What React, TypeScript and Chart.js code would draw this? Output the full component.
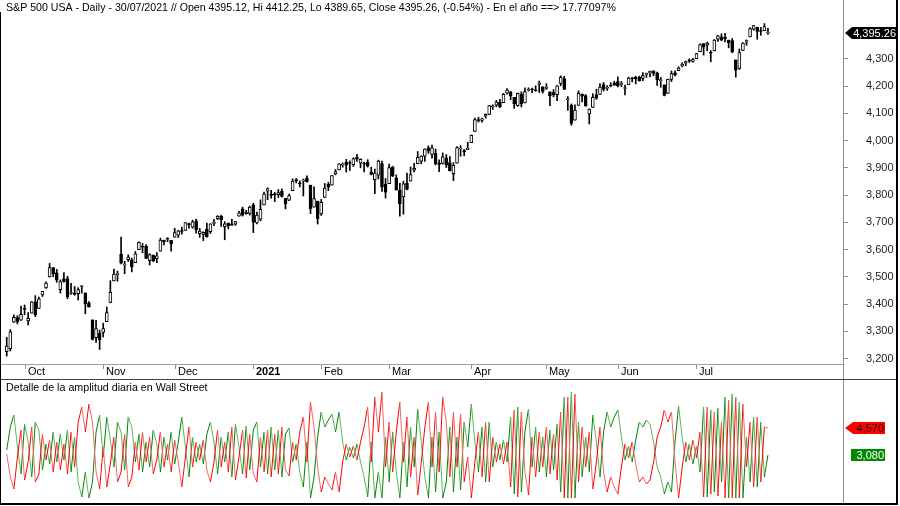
import React, { useEffect, useRef } from "react";
import { Chart, registerables } from "chart.js";

Chart.register(...registerables);

const dates = [
  "2020-09-24","2020-09-25","2020-09-28","2020-09-29","2020-09-30",
  "2020-10-01","2020-10-02","2020-10-05","2020-10-06","2020-10-07","2020-10-08","2020-10-09","2020-10-12","2020-10-13","2020-10-14","2020-10-15","2020-10-16","2020-10-19","2020-10-20","2020-10-21","2020-10-22","2020-10-23","2020-10-26","2020-10-27","2020-10-28","2020-10-29","2020-10-30",
  "2020-11-02","2020-11-03","2020-11-04","2020-11-05","2020-11-06","2020-11-09","2020-11-10","2020-11-11","2020-11-12","2020-11-13","2020-11-16","2020-11-17","2020-11-18","2020-11-19","2020-11-20","2020-11-23","2020-11-24","2020-11-25","2020-11-27","2020-11-30",
  "2020-12-01","2020-12-02","2020-12-03","2020-12-04","2020-12-07","2020-12-08","2020-12-09","2020-12-10","2020-12-11","2020-12-14","2020-12-15","2020-12-16","2020-12-17","2020-12-18","2020-12-21","2020-12-22","2020-12-23","2020-12-24","2020-12-28","2020-12-29","2020-12-30","2020-12-31",
  "2021-01-04","2021-01-05","2021-01-06","2021-01-07","2021-01-08","2021-01-11","2021-01-12","2021-01-13","2021-01-14","2021-01-15","2021-01-19","2021-01-20","2021-01-21","2021-01-22","2021-01-25","2021-01-26","2021-01-27","2021-01-28","2021-01-29",
  "2021-02-01","2021-02-02","2021-02-03","2021-02-04","2021-02-05","2021-02-08","2021-02-09","2021-02-10","2021-02-11","2021-02-12","2021-02-16","2021-02-17","2021-02-18","2021-02-19","2021-02-22","2021-02-23","2021-02-24","2021-02-25","2021-02-26",
  "2021-03-01","2021-03-02","2021-03-03","2021-03-04","2021-03-05","2021-03-08","2021-03-09","2021-03-10","2021-03-11","2021-03-12","2021-03-15","2021-03-16","2021-03-17","2021-03-18","2021-03-19","2021-03-22","2021-03-23","2021-03-24","2021-03-25","2021-03-26","2021-03-29","2021-03-30","2021-03-31",
  "2021-04-01","2021-04-05","2021-04-06","2021-04-07","2021-04-08","2021-04-09","2021-04-12","2021-04-13","2021-04-14","2021-04-15","2021-04-16","2021-04-19","2021-04-20","2021-04-21","2021-04-22","2021-04-23","2021-04-26","2021-04-27","2021-04-28","2021-04-29","2021-04-30",
  "2021-05-03","2021-05-04","2021-05-05","2021-05-06","2021-05-07","2021-05-10","2021-05-11","2021-05-12","2021-05-13","2021-05-14","2021-05-17","2021-05-18","2021-05-19","2021-05-20","2021-05-21","2021-05-24","2021-05-25","2021-05-26","2021-05-27","2021-05-28",
  "2021-06-01","2021-06-02","2021-06-03","2021-06-04","2021-06-07","2021-06-08","2021-06-09","2021-06-10","2021-06-11","2021-06-14","2021-06-15","2021-06-16","2021-06-17","2021-06-18","2021-06-21","2021-06-22","2021-06-23","2021-06-24","2021-06-25","2021-06-28","2021-06-29","2021-06-30",
  "2021-07-01","2021-07-02","2021-07-06","2021-07-07","2021-07-08","2021-07-09","2021-07-12","2021-07-13","2021-07-14","2021-07-15","2021-07-16","2021-07-19","2021-07-20","2021-07-21","2021-07-22","2021-07-23","2021-07-26","2021-07-27","2021-07-28","2021-07-29","2021-07-30",
];

const opens = [
  3226.14,3236.66,3333.90,3350.92,3341.21,
  3385.87,3338.94,3367.27,3408.74,3384.56,3434.28,3459.67,3500.02,3534.01,3515.47,3453.72,3493.50,3493.66,3439.38,3439.91,3438.50,3464.90,3441.42,3403.15,3342.48,3277.17,3293.59,
  3296.20,3336.25,3406.46,3485.74,3508.34,3583.04,3543.26,3563.22,3562.67,3552.57,3600.16,3610.31,3612.09,3559.41,3579.31,3566.82,3594.52,3635.50,3638.55,3634.18,
  3645.87,3653.78,3668.28,3670.94,3694.73,3683.05,3705.98,3659.13,3656.08,3675.27,3666.41,3696.25,3713.65,3722.39,3684.28,3698.08,3693.42,3694.03,3723.03,3750.01,3736.19,3733.27,
  3764.61,3698.02,3712.20,3764.71,3815.05,3803.14,3801.62,3802.23,3814.98,3788.73,3781.88,3816.22,3857.46,3844.24,3851.68,3862.96,3836.83,3755.75,3778.05,
  3731.17,3791.84,3840.27,3836.66,3878.30,3892.59,3910.49,3920.78,3916.40,3911.65,3939.61,3918.50,3915.86,3921.16,3885.55,3857.07,3873.71,3915.80,3839.66,
  3842.51,3903.64,3863.99,3818.53,3793.58,3844.39,3851.93,3891.99,3915.54,3924.52,3942.96,3973.59,3949.57,3953.50,3913.14,3916.48,3937.60,3919.93,3879.34,3917.12,3969.31,3963.34,3967.25,
  3992.78,4034.44,4075.57,4074.29,4089.95,4096.11,4124.71,4130.10,4141.58,4139.76,4174.14,4179.80,4159.18,4128.42,4170.46,4138.78,4185.03,4188.25,4185.14,4206.14,4198.10,
  4191.98,4179.04,4177.06,4169.14,4210.34,4228.29,4150.34,4130.55,4074.99,4129.58,4169.92,4165.94,4098.45,4121.97,4168.61,4170.16,4205.94,4191.59,4201.94,4210.77,
  4216.52,4206.82,4191.43,4206.05,4229.34,4233.81,4232.99,4228.56,4242.90,4248.31,4255.28,4248.87,4220.37,4204.78,4173.40,4224.61,4249.27,4256.97,4274.45,4284.90,4293.21,4290.65,
  4300.73,4326.60,4356.46,4351.01,4321.07,4329.38,4372.41,4381.07,4380.11,4369.02,4367.43,4296.40,4265.11,4331.13,4361.27,4381.20,4409.58,4416.38,4402.95,4403.59,4395.12,
];

const highs = [
  3278.70,3306.88,3360.74,3357.92,3393.56,
  3397.18,3369.10,3409.57,3431.56,3426.26,3447.28,3482.34,3549.85,3534.01,3527.94,3489.08,3515.76,3502.42,3476.93,3464.86,3460.53,3466.46,3441.42,3409.51,3342.48,3341.05,3304.93,
  3330.14,3389.49,3486.25,3529.05,3521.58,3645.99,3557.22,3581.16,3569.02,3593.66,3628.51,3623.11,3619.09,3585.22,3581.23,3589.81,3642.31,3635.50,3644.31,3634.18,
  3678.45,3670.96,3682.73,3699.20,3697.41,3708.45,3712.39,3678.49,3665.91,3697.61,3695.29,3711.27,3725.12,3726.70,3702.90,3698.26,3711.24,3703.82,3740.51,3756.12,3744.63,3760.20,
  3769.99,3737.83,3783.04,3811.55,3826.69,3817.86,3810.78,3820.96,3823.60,3788.73,3804.53,3859.75,3861.45,3852.31,3859.23,3870.90,3836.83,3830.50,3778.05,
  3784.32,3843.09,3847.51,3872.42,3894.56,3915.77,3918.35,3931.50,3925.99,3937.23,3950.43,3933.61,3921.98,3930.41,3902.92,3895.98,3928.65,3925.02,3861.08,
  3914.50,3906.41,3874.47,3843.67,3851.69,3881.06,3903.76,3917.35,3960.27,3944.99,3970.08,3981.04,3983.87,3969.62,3930.12,3955.31,3949.13,3942.08,3919.54,3978.19,3981.83,3968.01,3994.41,
  4020.63,4083.42,4086.23,4083.13,4098.19,4129.48,4131.76,4148.00,4151.69,4173.49,4191.31,4180.81,4159.18,4175.02,4179.57,4194.17,4194.19,4193.35,4201.53,4218.78,4198.10,
  4209.39,4179.04,4187.72,4202.70,4238.04,4236.39,4162.04,4134.73,4131.58,4183.13,4171.92,4169.15,4116.93,4172.80,4188.72,4209.52,4213.42,4202.61,4213.38,4218.36,
  4234.12,4217.37,4204.39,4233.45,4232.34,4236.74,4237.09,4249.74,4248.38,4255.59,4257.16,4251.89,4232.29,4204.78,4226.24,4255.84,4256.60,4271.28,4286.12,4292.14,4300.52,4302.43,
  4320.66,4355.43,4356.46,4361.88,4330.88,4371.60,4386.68,4392.37,4393.68,4369.02,4375.09,4296.40,4336.84,4359.70,4369.87,4415.18,4422.73,4416.38,4415.47,4429.97,4412.25,
];

const lows = [
  3209.45,3228.44,3332.91,3327.54,3340.47,
  3361.39,3323.69,3367.27,3354.54,3384.56,3428.15,3458.07,3499.61,3500.86,3480.55,3440.89,3480.45,3419.93,3435.65,3433.06,3415.34,3440.45,3364.86,3388.71,3268.89,3259.82,3233.94,
  3279.74,3336.25,3405.17,3485.74,3484.34,3547.48,3511.91,3557.00,3518.58,3552.57,3600.16,3588.68,3567.33,3543.84,3556.85,3552.77,3594.52,3617.76,3629.33,3594.39,
  3645.87,3644.84,3657.17,3670.94,3678.88,3678.83,3660.54,3645.18,3633.40,3645.84,3659.62,3688.57,3710.87,3685.84,3636.48,3676.16,3689.28,3689.32,3723.03,3723.31,3730.21,3726.88,
  3662.71,3695.07,3705.34,3764.71,3783.60,3789.02,3776.51,3791.50,3792.86,3749.62,3780.37,3816.22,3845.05,3830.41,3797.16,3847.78,3732.48,3755.75,3694.12,
  3725.62,3791.84,3816.68,3836.66,3874.93,3892.59,3902.64,3884.94,3890.39,3905.78,3923.85,3900.43,3885.03,3903.07,3874.71,3805.59,3859.60,3814.04,3789.54,
  3842.51,3868.57,3818.86,3723.34,3730.19,3819.25,3851.93,3885.73,3915.54,3915.21,3923.54,3953.44,3935.74,3910.86,3886.75,3914.16,3901.57,3889.07,3853.50,3917.12,3943.25,3944.35,3966.98,
  3992.78,4034.44,4068.14,4068.31,4082.54,4095.51,4114.82,4124.43,4120.87,4139.76,4170.75,4150.47,4118.38,4126.35,4123.69,4138.78,4182.36,4176.22,4181.78,4176.81,4174.85,
  4188.03,4128.59,4160.94,4147.33,4201.64,4188.13,4111.53,4056.88,4074.99,4129.58,4142.69,4125.99,4061.41,4121.97,4151.72,4170.16,4182.52,4184.11,4197.78,4203.57,
  4197.59,4198.27,4167.93,4206.05,4215.66,4208.41,4218.74,4220.34,4232.25,4234.07,4238.35,4202.45,4196.05,4164.40,4173.40,4217.27,4237.38,4256.97,4271.16,4274.67,4287.04,4287.96,
  4300.73,4326.60,4314.37,4329.79,4289.37,4329.38,4364.03,4366.92,4362.36,4340.70,4322.53,4233.13,4262.05,4331.13,4350.06,4381.20,4405.45,4372.51,4387.01,4403.59,4389.65,
];

const closes = [
  3246.59,3298.46,3351.60,3335.47,3363.00,
  3380.80,3348.42,3408.60,3360.97,3419.44,3446.83,3477.14,3534.22,3511.93,3488.67,3483.34,3483.81,3426.92,3443.12,3435.56,3453.49,3465.39,3400.97,3390.68,3271.03,3310.11,3269.96,
  3310.24,3369.16,3443.44,3510.45,3509.44,3550.50,3545.53,3572.66,3537.01,3585.15,3626.91,3609.53,3567.79,3581.87,3557.54,3577.59,3635.41,3629.65,3638.35,3621.63,
  3662.45,3669.01,3666.72,3699.12,3691.96,3702.25,3672.82,3668.10,3663.46,3647.49,3694.62,3701.17,3722.48,3709.41,3694.92,3687.26,3690.01,3703.06,3735.36,3727.04,3732.04,3756.07,
  3700.65,3726.86,3748.14,3803.79,3824.68,3799.61,3801.19,3809.84,3795.54,3768.25,3798.91,3851.85,3853.07,3841.47,3855.36,3849.62,3750.77,3787.38,3714.24,
  3773.86,3826.31,3830.17,3871.74,3886.83,3915.59,3911.23,3909.88,3916.38,3934.83,3932.59,3931.33,3913.97,3906.71,3876.50,3881.37,3925.43,3829.34,3811.15,
  3901.82,3870.29,3819.72,3768.47,3841.94,3821.35,3875.44,3898.81,3939.34,3943.34,3968.94,3962.71,3974.12,3915.46,3913.10,3940.59,3910.52,3889.14,3909.52,3974.54,3971.09,3958.55,3972.89,
  4019.87,4077.91,4073.94,4079.95,4097.17,4128.80,4127.99,4141.59,4124.66,4170.42,4185.47,4163.26,4134.94,4173.42,4134.98,4180.17,4187.62,4186.72,4183.18,4211.47,4181.17,
  4192.66,4164.66,4167.59,4201.62,4232.60,4188.43,4152.10,4063.04,4112.50,4173.85,4163.29,4127.83,4115.68,4159.12,4155.86,4197.05,4188.13,4195.99,4200.88,4204.11,
  4202.04,4208.12,4192.85,4229.89,4226.52,4227.26,4219.55,4239.18,4247.44,4255.15,4246.59,4223.70,4221.86,4166.45,4224.79,4246.44,4241.84,4266.49,4280.70,4290.61,4291.80,4297.50,
  4319.94,4352.34,4343.54,4358.13,4320.82,4369.55,4384.63,4369.21,4374.30,4360.03,4327.16,4258.49,4323.06,4358.69,4367.48,4411.79,4422.30,4401.46,4400.64,4419.15,4395.26,
];

// Lower panel: daily amplitude series (red / green)
const redAmp = [
  3140,1875,1215,2975,4460,1710,2700,4625,1600,2040,
  4240,2810,3910,2150,3800,2260,3690,2040,4350,2425,
  4900,5725,4350,5890,4900,2150,1215,3525,1325,2590,
  4075,1600,2150,4240,1325,1875,3800,2260,4350,2700,
  4075,2040,2810,4350,2425,3690,2150,3910,2700,1325,
  2975,4625,2425,3800,2810,3910,2260,1600,2700,4460,
  2425,3800,2150,4625,1710,2975,4460,1820,4240,2040,
  1600,4075,2150,4460,1875,4240,2040,4625,2260,1930,
  3800,2810,4350,5175,2700,6000,4625,2425,1050,1875,
  1490,1160,2150,1050,2700,3690,2975,3580,2810,3800,
  4625,5725,2700,6275,4350,6550,2425,4900,2150,4350,
  6000,2700,5175,1875,4075,885,2700,4625,6000,2425,
  5450,2150,6275,4900,1875,5450,2425,5340,1600,2975,
  720,2700,4350,1875,4900,1600,4075,2700,3690,2590,
  3800,1325,5560,775,5450,2150,885,4075,1875,4350,
  2425,4625,2040,4240,1710,5450,720,6275,720,6440,
  1600,4625,2425,4350,1215,2700,4625,2150,1050,1875,
  1325,940,2425,3690,2920,3800,2590,1600,1875,1490,
  1710,2700,4075,4625,5560,4900,5450,2700,720,2425,
  3800,2810,3910,2920,4350,775,5725,940,5450,830,
  4900,720,6110,720,6275,720,5890,2425,4900,1325,
  5175,1600,4625,4570,
];

const greenAmp = [
  3360,4625,5285,3525,2040,4790,3800,1875,4900,4460,
  2260,3690,2590,4350,2700,4240,2810,4460,2150,4075,
  1600,775,2150,720,1600,4350,5285,2975,5175,3910,
  2425,4900,4350,2260,5175,4625,2700,4240,2150,3800,
  2425,4460,3690,2150,4075,2810,4350,2590,3800,5175,
  3525,1875,4075,2700,3690,2590,4240,4900,3800,2040,
  4075,2700,4350,1875,4790,3525,2040,4680,2260,4460,
  4900,2425,4350,2040,4625,2260,4460,1875,4240,4570,
  2700,3690,2150,1325,3800,720,1875,4075,5450,4625,
  5010,5340,4350,5450,3800,2810,3525,2920,3690,2700,
  1875,775,3800,720,2150,720,4075,1600,4350,2150,
  720,3800,1325,4625,2425,5615,3800,1875,720,4075,
  1050,4350,720,1600,4625,1050,4075,1160,4900,3525,
  5890,3800,2150,4625,1600,4900,2425,3800,2810,3910,
  2700,5175,940,5725,1050,4350,5615,2425,4625,2150,
  4075,1875,4460,2260,4790,1050,6275,720,6550,720,
  4900,1875,4075,2150,5285,3800,1875,4350,5450,4625,
  5175,5560,4075,2810,3580,2700,3910,4900,4625,5010,
  4790,3800,2425,1875,940,1600,1050,3800,5780,4075,
  2700,3690,2590,3580,2150,5725,775,5560,1050,5670,
  1600,6275,720,6440,720,6000,720,4075,1600,5175,
  1325,4900,1875,3080,
];

const priceTickValues = [3200, 3300, 3400, 3500, 3600, 3700, 3800, 3900, 4000, 4100, 4200, 4300];
const monthNames = ["Jan", "Feb", "Mar", "Apr", "May", "Jun", "Jul", "Aug", "Sep", "Oct", "Nov", "Dec"];
const titleText =
  "S&P 500 USA - Daily - 30/07/2021 // Open 4395.12, Hi 4412.25, Lo 4389.65, Close 4395.26, (-0.54%) - En el año ==> 17.77097%";
const lowerTitle = "Detalle de la amplitud diaria en Wall Street";

const FAMILY = "'Liberation Sans', Arial, sans-serif";

export default function App() {
  const ref = useRef<HTMLCanvasElement>(null);

  useEffect(() => {
    document.body.style.margin = "0";
    const canvas = ref.current;
    if (!canvas) return;
    const n = dates.length;
    const idx = dates.map((_, i) => i);
    const bodyData = idx.map((i) => ({ x: i, y: [opens[i], closes[i]] }));
    const wickData = idx.map((i) => ({ x: i, y: [lows[i], highs[i]] }));
    const redData = idx.map((i) => ({ x: i, y: redAmp[i] }));
    const greenData = idx.map((i) => ({ x: i, y: greenAmp[i] }));

    const decor = {
      id: "decor",
      afterDraw(chart: any) {
        const { ctx, scales } = chart;
        const xs = scales.x;
        const ys = scales.y;
        const y2 = scales.y2;
        ctx.save();
        // frame and separators
        ctx.fillStyle = "#a0a0a0";
        ctx.fillRect(0, 364, 843, 1);
        ctx.fillStyle = "#8c8c8c";
        ctx.fillRect(843, 0, 1, 504);
        ctx.fillStyle = "#404040";
        ctx.fillRect(0, 379, 897, 1);
        ctx.fillStyle = "#000";
        ctx.fillRect(0, 12, 1, 493);
        ctx.fillRect(896, 0, 2, 505);
        ctx.fillRect(0, 503, 898, 2);

        // titles
        ctx.fillStyle = "#000";
        ctx.textAlign = "left";
        ctx.textBaseline = "alphabetic";
        ctx.font = `10.6px ${FAMILY}`;
        ctx.fillText(titleText, 6, 11);
        ctx.font = `10.7px ${FAMILY}`;
        ctx.fillText(lowerTitle, 6, 391);

        // month ticks and labels
        for (let i = 1; i < n; i++) {
          const m = dates[i].slice(5, 7);
          if (m !== dates[i - 1].slice(5, 7)) {
            const px = Math.round(xs.getPixelForValue(i));
            ctx.fillStyle = "#909090";
            ctx.fillRect(px, 365, 1, 4);
            const mi = parseInt(m, 10) - 1;
            const isYear = mi === 0;
            ctx.fillStyle = "#000";
            ctx.font = `${isYear ? "bold " : ""}11px ${FAMILY}`;
            ctx.fillText(isYear ? dates[i].slice(0, 4) : monthNames[mi], px + 3, 375);
          }
        }

        // last price tag
        const lastClose = closes[n - 1];
        const py = Math.round(ys.getPixelForValue(lastClose));
        ctx.fillStyle = "#000";
        ctx.beginPath();
        ctx.moveTo(845, py);
        ctx.lineTo(852, py - 6);
        ctx.lineTo(897, py - 6);
        ctx.lineTo(897, py + 6);
        ctx.lineTo(852, py + 6);
        ctx.closePath();
        ctx.fill();
        ctx.fillStyle = "#fff";
        ctx.font = `11px ${FAMILY}`;
        ctx.textAlign = "right";
        ctx.fillText(
          lastClose.toLocaleString("en-US", { minimumFractionDigits: 2, maximumFractionDigits: 2 }),
          896,
          py + 4
        );

        // red tag
        const lastRed = redAmp[n - 1];
        const ry = Math.round(y2.getPixelForValue(lastRed));
        ctx.fillStyle = "#ff0000";
        ctx.beginPath();
        ctx.moveTo(845, ry);
        ctx.lineTo(853, ry - 6);
        ctx.lineTo(885, ry - 6);
        ctx.lineTo(885, ry + 6);
        ctx.lineTo(853, ry + 6);
        ctx.closePath();
        ctx.fill();
        ctx.fillStyle = "#200000";
        ctx.fillText(lastRed.toLocaleString("en-US"), 884, ry + 4);

        // green tag
        const lastGreen = greenAmp[n - 1];
        const gy = Math.round(y2.getPixelForValue(lastGreen));
        ctx.fillStyle = "#008a00";
        ctx.fillRect(851, gy - 6, 34, 12);
        ctx.fillStyle = "#fff";
        ctx.fillText(lastGreen.toLocaleString("en-US"), 884, gy + 4);
        ctx.restore();
      },
    };

    const chart = new Chart(canvas, {
      type: "bar",
      data: {
        datasets: [
          {
            type: "bar",
            data: bodyData as any,
            yAxisID: "y",
            barThickness: 3,
            grouped: false,
            minBarLength: 1,
            backgroundColor: (c: any) => (closes[c.dataIndex] >= opens[c.dataIndex] ? "#ffffff" : "#000000"),
            borderColor: "#000",
            borderWidth: 1,
            borderSkipped: false,
            order: 0,
          } as any,
          {
            type: "bar",
            data: wickData as any,
            yAxisID: "y",
            barThickness: 1,
            grouped: false,
            backgroundColor: "#000",
            borderWidth: 0,
            order: 1,
          } as any,
          {
            type: "line",
            data: redData as any,
            yAxisID: "y2",
            borderColor: "#ff0000",
            borderWidth: 1,
            pointRadius: 0,
            tension: 0,
            segment: {
              borderColor: (c: any) => (c.p1.parsed.y >= c.p0.parsed.y ? "#ff0000" : "#f06a6a"),
            },
            order: 2,
          } as any,
          {
            type: "line",
            data: greenData as any,
            yAxisID: "y2",
            borderColor: "#008000",
            borderWidth: 1,
            pointRadius: 0,
            tension: 0,
            segment: {
              borderColor: (c: any) => (c.p1.parsed.y >= c.p0.parsed.y ? "#008000" : "#5cb85c"),
            },
            order: 3,
          } as any,
        ],
      },
      options: {
        animation: false,
        responsive: false,
        devicePixelRatio: 1,
        events: [],
        layout: { padding: { left: 3, top: 15, right: 0, bottom: 3 } },
        plugins: { legend: { display: false }, tooltip: { enabled: false }, title: { display: false } },
        scales: {
          x: {
            type: "linear",
            display: false,
            min: -1.04,
            max: 234,
            offset: false,
          },
          y: {
            type: "linear",
            position: "right",
            min: 2670.5,
            max: 4461.3,
            afterFit: (s: any) => {
              s.width = 57;
              s.paddingTop = 0;
              s.paddingBottom = 0;
            },
            afterBuildTicks: (s: any) => {
              s.ticks = priceTickValues.map((v) => ({ value: v }));
            },
            ticks: {
              stepSize: 100,
              padding: 18,
              crossAlign: "near",
              color: "#222",
              font: { family: FAMILY, size: 11 },
              callback: (v: any) => Number(v).toLocaleString("en-US"),
            },
            grid: { drawOnChartArea: false, drawTicks: true, tickLength: 5, color: "#909090" },
            border: { display: false },
          },
          y2: {
            type: "linear",
            position: "right",
            display: false,
            min: 445,
            max: 27285,
          },
        },
      } as any,
      plugins: [decor],
    });

    return () => chart.destroy();
  }, []);

  return (
    <div style={{ width: 900, height: 506, position: "relative", background: "#fff" }}>
      <canvas ref={ref} width={900} height={506} style={{ display: "block" }} />
    </div>
  );
}
